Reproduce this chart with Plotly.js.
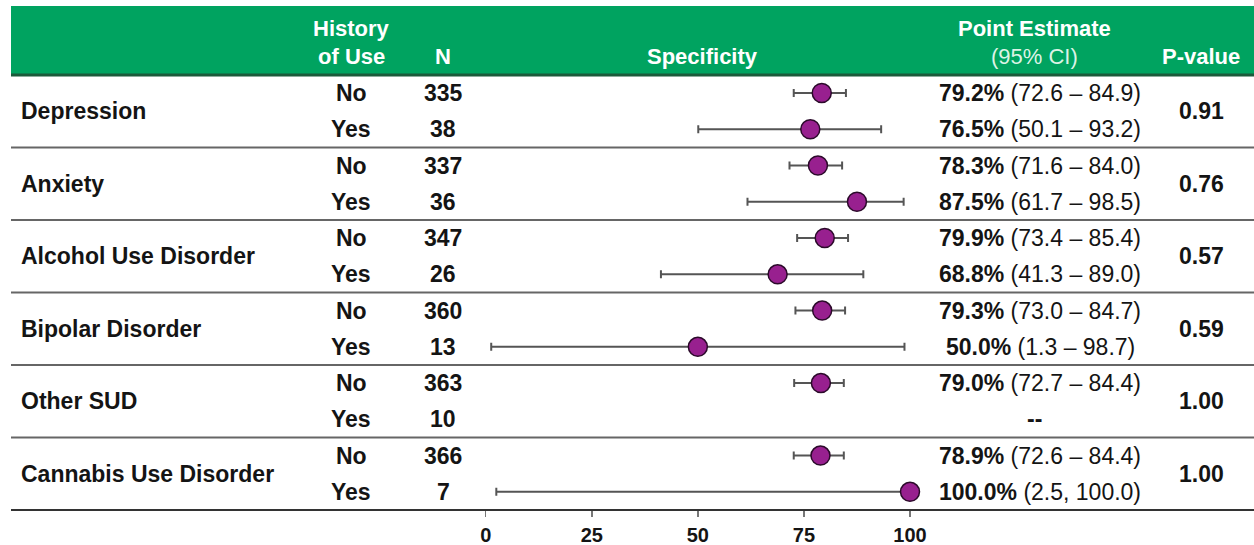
<!DOCTYPE html>
<html>
<head>
<meta charset="utf-8">
<script src="https://cdn.plot.ly/plotly-3.0.1.min.js"></script>
<style>
  html, body { margin: 0; padding: 0; background: #ffffff; }
  #chart { width: 1254px; height: 545px; }
</style>
</head>
<body>
<div id="chart"></div>
<script>
// Specificity by history of use: point estimates with 95% confidence intervals
const groups = ['Depression', 'Anxiety', 'Alcohol Use Disorder', 'Bipolar Disorder', 'Other SUD', 'Cannabis Use Disorder'];
const historyLevels = ['No', 'Yes'];
const nNo  = [335, 337, 347, 360, 363, 366];
const nYes = [38, 36, 26, 13, 10, 7];
const estNo = [79.2, 78.3, 79.9, 79.3, 79.0, 78.9];
const loNo  = [72.6, 71.6, 73.4, 73.0, 72.7, 72.6];
const hiNo  = [84.9, 84.0, 85.4, 84.7, 84.4, 84.4];
const estYes = [76.5, 87.5, 68.8, 50.0, null, 100.0];
const loYes  = [50.1, 61.7, 41.3, 1.3, null, 2.5];
const hiYes  = [93.2, 98.5, 89.0, 98.7, null, 100.0];
const ciSepYes = [' – ', ' – ', ' – ', ' – ', null, ', '];
const pValues = ['0.91', '0.76', '0.57', '0.59', '1.00', '1.00'];
const xTicks = [0, 25, 50, 75, 100];
const headerLabels = {
  history: ['History', 'of Use'],
  n: 'N',
  spec: 'Specificity',
  est: ['Point Estimate', '(95% CI)'],
  p: 'P-value'
};

// ---- layout constants ----
const W = 1254;
const FONT = 'Liberation Sans, Arial, Helvetica, sans-serif';
const GREEN = '#00a360';
const TXT = '#141414';
const colX = { label: 19, hist: 351, n: 443, spec: 702, est: 1034, estBody: 1040, p: 1201 };
const px = v => v / W;             // pixel column -> paper fraction
const bodySize = 23;

// flatten groups into rows (No row, then Yes row per group)
const rows = [];
groups.forEach((g, gi) => {
  rows.push({ idx: 2 * gi,     hist: historyLevels[0], n: nNo[gi],  est: estNo[gi],  lo: loNo[gi],  hi: hiNo[gi],  sep: ' – ' });
  rows.push({ idx: 2 * gi + 1, hist: historyLevels[1], n: nYes[gi], est: estYes[gi], lo: loYes[gi], hi: hiYes[gi], sep: ciSepYes[gi] });
});

const fmtCI = r => r.est == null ? '<b>--</b>'
  : '<b>' + r.est.toFixed(1) + '%</b> (' + r.lo.toFixed(1) + r.sep + r.hi.toFixed(1) + ')';

// ---- forest marks ----
const plotted = rows.filter(r => r.est != null);
const trace = {
  type: 'scatter',
  mode: 'markers',
  x: plotted.map(r => r.est),
  y: plotted.map(r => r.idx),
  marker: { size: 19, color: '#98208f', line: { color: '#2b0a2a', width: 1.5 } },
  error_x: {
    type: 'data',
    symmetric: false,
    array: plotted.map(r => +(r.hi - r.est).toFixed(2)),
    arrayminus: plotted.map(r => +(r.est - r.lo).toFixed(2)),
    color: '#555555',
    thickness: 2,
    width: 4
  },
  cliponaxis: false,
  hoverinfo: 'skip',
  showlegend: false
};

// ---- table text ----
const ann = [];
const addText = (x, y, text, opts = {}) => ann.push(Object.assign({
  x: px(x), y: y, xref: 'paper', yref: 'y', text: text, showarrow: false,
  xanchor: 'center', yanchor: 'middle',
  font: { family: FONT, size: bodySize, color: TXT }
}, opts));

groups.forEach((g, gi) => {
  addText(colX.label, 2 * gi + 0.5, '<b>' + g + '</b>', { xanchor: 'left' });
  addText(colX.p, 2 * gi + 0.5, '<b>' + pValues[gi] + '</b>');
});
rows.forEach(r => {
  addText(colX.hist, r.idx, '<b>' + r.hist + '</b>');
  addText(colX.n, r.idx, '<b>' + r.n + '</b>');
  addText(r.est == null ? colX.est : colX.estBody, r.idx, fmtCI(r));
});

// header row
const hFont = { family: FONT, size: 22, color: '#ffffff' };
const yTop = -1.77, yBot = -1.02;
addText(colX.hist, yTop, '<b>' + headerLabels.history[0] + '</b>', { font: hFont });
addText(colX.hist, yBot, '<b>' + headerLabels.history[1] + '</b>', { font: hFont });
addText(colX.n, yBot, '<b>' + headerLabels.n + '</b>', { font: hFont });
addText(colX.spec, yBot, '<b>' + headerLabels.spec + '</b>', { font: hFont });
addText(colX.est, yTop, '<b>' + headerLabels.est[0] + '</b>', { font: hFont });
addText(colX.est, yBot, headerLabels.est[1], { font: Object.assign({}, hFont, { color: '#dcf3e6' }) });
addText(colX.p, yBot, '<b>' + headerLabels.p + '</b>', { font: hFont });

// ---- header band and row separators ----
const shapes = [
  { type: 'rect', xref: 'paper', yref: 'y', x0: px(11), x1: 1, y0: -2.4, y1: -0.5,
    fillcolor: GREEN, line: { width: 0 }, layer: 'below' },
  { type: 'line', xref: 'paper', yref: 'y', x0: px(11), x1: 1, y0: -0.5, y1: -0.5,
    line: { color: '#1b5a3a', width: 3 } }
];
for (let gi = 1; gi < groups.length; gi++) {
  const y = 2 * gi - 0.5;
  shapes.push({ type: 'line', xref: 'paper', yref: 'y', x0: px(11), x1: 1, y0: y, y1: y,
    line: { color: '#666666', width: 2 } });
}
shapes.push({ type: 'line', xref: 'paper', yref: 'paper', x0: px(11), x1: 1, y0: 0, y1: 0,
  line: { color: '#333333', width: 2 } });

// x scale: 0 sits at 485.7 px and 100 at 910 px across the full-width plot
const x0px = 485.7, x100px = 910;
const unit = (x100px - x0px) / 100;
const xRange = [-x0px / unit, (W - x0px) / unit];

const layout = {
  width: W, height: 545,
  margin: { l: 0, r: 0, t: 0, b: 35 },
  paper_bgcolor: '#ffffff', plot_bgcolor: '#ffffff',
  xaxis: {
    range: xRange, tickvals: xTicks, ticktext: xTicks.map(String),
    showgrid: false, zeroline: false, showline: false,
    ticks: 'outside', ticklen: 6, tickwidth: 1.5, tickcolor: '#777777',
    ticklabelstandoff: 1,
    tickfont: { family: FONT, size: 20, color: TXT, weight: 'bold' },
    fixedrange: true
  },
  yaxis: { range: [11.5, -2.5655], visible: false, fixedrange: true },
  shapes: shapes,
  annotations: ann,
  showlegend: false
};

Plotly.newPlot('chart', [trace], layout, { displayModeBar: false, staticPlot: true });
</script>
</body>
</html>
